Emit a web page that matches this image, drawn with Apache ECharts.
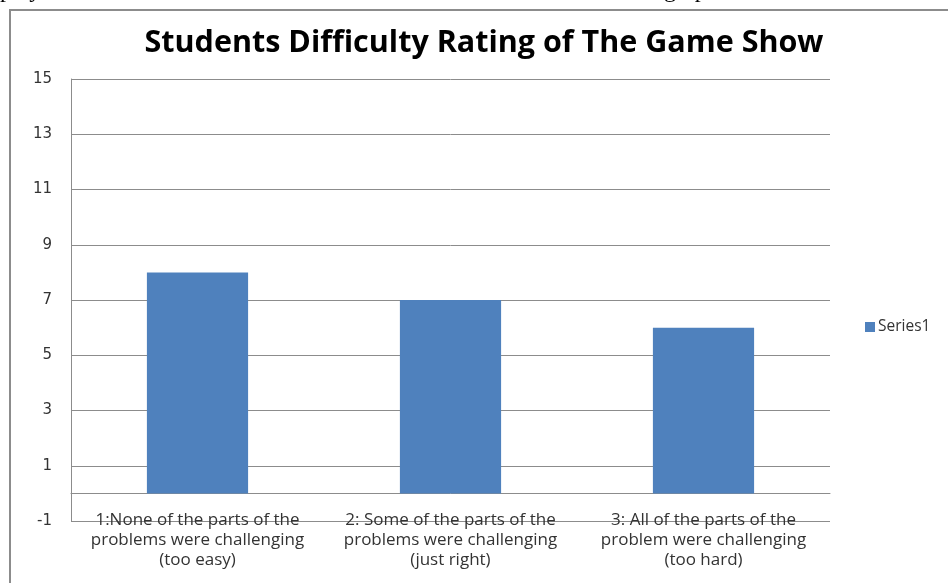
<!DOCTYPE html>
<html>
<head>
<meta charset="utf-8">
<script src="https://cdn.jsdelivr.net/npm/echarts@6/dist/echarts.min.js"></script>
<style>
  html, body { margin: 0; padding: 0; background: #fff; }
  #chart { width: 948px; height: 583px; }
</style>
</head>
<body>
<div id="chart"></div>
<script>
// Category labels, one per bar
const categories = [
  "1:None of the parts of the\nproblems were challenging\n(too easy)",
  "2: Some of the parts of the\nproblems were challenging\n(just right)",
  "3: All of the parts of the\nproblem were challenging\n(too hard)"
];
// Number of students choosing each rating
const series1 = [8, 7, 6];
// Value axis range and step
const yMin = -1;
const yMax = 15;
const yStep = 2;

const chart = echarts.init(document.getElementById('chart'), null, { renderer: 'canvas' });

chart.setOption({
  animation: false,
  backgroundColor: '#ffffff',
  title: {
    text: 'Students Difficulty Rating of The Game Show',
    left: 479,
    textAlign: 'center',
    top: 23,
    textStyle: {
      fontFamily: 'Open Sans',
      fontWeight: 'bold',
      fontSize: 30.5,
      color: '#000000'
    }
  },
  legend: {
    orient: 'vertical',
    left: 860,
    top: 314,
    itemWidth: 10,
    itemHeight: 10,
    itemGap: 6,
    icon: 'rect',
    textStyle: { fontFamily: 'Open Sans', fontSize: 15.5, color: '#333333', padding: [0, 0, 0, -2] },
    data: ['Series1']
  },
  grid: {
    left: 71,
    right: 118,
    top: 79,
    bottom: 62,
    containLabel: false,
    outerBoundsMode: 'none'
  },
  xAxis: {
    type: 'category',
    data: categories,
    axisLine: { onZero: true, lineStyle: { color: '#8c8c8c', width: 1 } },
    axisTick: { show: false },
    axisLabel: {
      margin: -11,
      interval: 0,
      fontFamily: 'Open Sans',
      fontSize: 17,
      lineHeight: 20,
      color: '#333333',
      align: 'center'
    }
  },
  yAxis: {
    type: 'value',
    min: yMin,
    max: yMax,
    interval: yStep,
    axisLine: { show: true, lineStyle: { color: '#8c8c8c', width: 1 } },
    axisTick: { show: false },
    axisLabel: {
      margin: 19,
      fontFamily: 'DejaVu Sans',
      fontSize: 15,
      color: '#333333'
    },
    splitLine: { show: true, lineStyle: { color: '#8c8c8c', width: 1 } }
  },
  series: [{
    name: 'Series1',
    type: 'bar',
    data: series1,
    barWidth: '40%',
    itemStyle: { color: '#4f81bd' }
  }],
  graphic: [
    {
      type: 'rect',
      shape: { x: 10, y: 10, width: 960, height: 600 },
      style: { fill: 'none', stroke: '#8c8c8c', lineWidth: 2 },
      silent: true
    },
    {
      type: 'text',
      left: 0,
      top: -21,
      style: { text: 'play', font: '24px "Liberation Serif"', fill: '#000' },
      silent: true
    },
    {
      type: 'text',
      left: 664,
      top: -21,
      style: { text: 'graph', font: '24px "Liberation Serif"', fill: '#000' },
      silent: true
    }
  ]
});
</script>
</body>
</html>
